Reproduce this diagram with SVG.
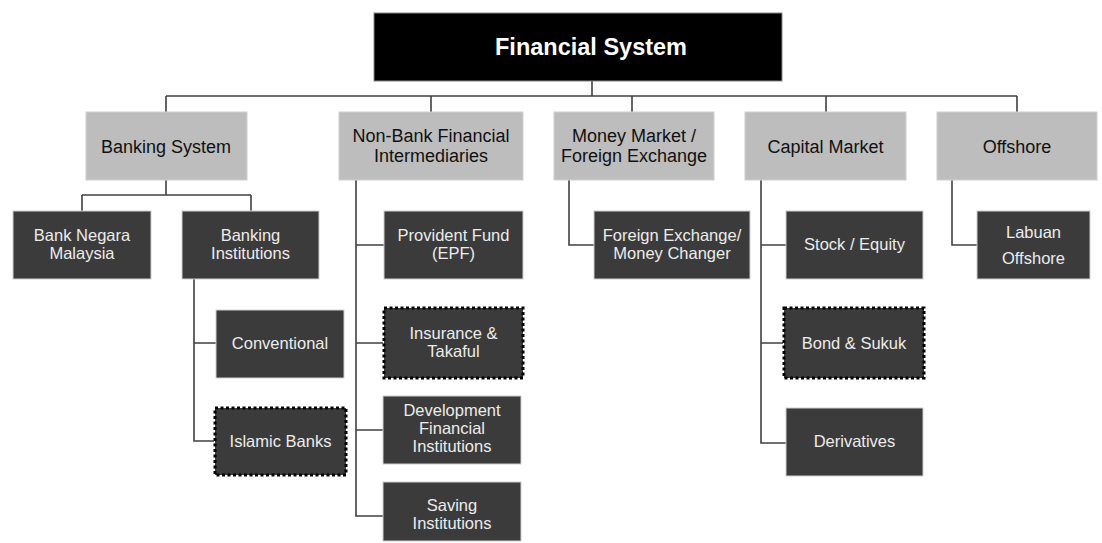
<svg xmlns="http://www.w3.org/2000/svg" width="1102" height="543" viewBox="0 0 1102 543">
<style>
text{font-family:"Liberation Sans",Arial,sans-serif;text-anchor:middle;}
.l1 rect{fill:#bdbdbd;stroke:#d0d0d0;stroke-width:1}
.l1 text{fill:#111;font-size:18px}
.l2 rect{fill:#3b3b3b;stroke:#cfcfcf;stroke-width:1}
.l2 text{fill:#ececec;font-size:16.5px}
.dot rect{stroke:#000;stroke-width:3;stroke-dasharray:3 2.5}
#connectors path{fill:none;stroke:#404040;stroke-width:1.6}
</style>
<rect width="1102" height="543" fill="#fff"/>
<g id="connectors">
<path d="M592 81V96M166 96H1017M166 96V112M431 96V112M632 96V112M826 96V112M1017 96V112"/>
<path d="M166 180V195M82 195H251M82 195V211M251 195V211"/>
<path d="M194 279V441H214M194 343H216"/>
<path d="M356 180V516H383M356 245H384M356 343H383M356 430H383"/>
<path d="M569 180V245H594"/>
<path d="M761 180V443H786M761 245H786M761 343H783"/>
<path d="M952 180V245H977"/>
</g>
<g id="financial-system"><rect x="374" y="13" width="408" height="68" fill="#000" stroke="#888" stroke-width="1"/><text x="591" y="55" fill="#fff" font-size="23.5" font-weight="bold">Financial System</text></g>
<g id="banking-system" class="l1"><rect x="86" y="112" width="161" height="68"/><text x="166" y="153">Banking System</text></g>
<g id="non-bank" class="l1"><rect x="339" y="112" width="184" height="68"/><text x="431" y="142">Non-Bank Financial</text><text x="431" y="162">Intermediaries</text></g>
<g id="money-market" class="l1"><rect x="554" y="112" width="160" height="68"/><text x="634" y="142">Money Market /</text><text x="634" y="162">Foreign Exchange</text></g>
<g id="capital-market" class="l1"><rect x="745" y="112" width="161" height="68"/><text x="825.5" y="153">Capital Market</text></g>
<g id="offshore" class="l1"><rect x="937" y="112" width="160" height="68"/><text x="1017" y="153">Offshore</text></g>
<g id="bank-negara" class="l2"><rect x="13" y="211" width="138" height="68"/><text x="82" y="241">Bank Negara</text><text x="82" y="259">Malaysia</text></g>
<g id="banking-institutions" class="l2"><rect x="182" y="211" width="137" height="68"/><text x="250.5" y="241">Banking</text><text x="250.5" y="259">Institutions</text></g>
<g id="conventional" class="l2"><rect x="216" y="310" width="128" height="68"/><text x="280" y="349">Conventional</text></g>
<g id="islamic-banks" class="l2 dot"><rect x="215" y="408" width="131" height="67"/><text x="280.5" y="447">Islamic Banks</text></g>
<g id="provident-fund" class="l2"><rect x="384" y="211" width="139" height="68"/><text x="453.5" y="241">Provident Fund</text><text x="453.5" y="259">(EPF)</text></g>
<g id="insurance" class="l2 dot"><rect x="384" y="308" width="139" height="70"/><text x="453.5" y="339">Insurance &amp;</text><text x="453.5" y="357">Takaful</text></g>
<g id="development" class="l2"><rect x="383" y="396" width="138" height="68"/><text x="452" y="416">Development</text><text x="452" y="434">Financial</text><text x="452" y="452">Institutions</text></g>
<g id="saving" class="l2"><rect x="383" y="482" width="138" height="59"/><text x="452" y="511">Saving</text><text x="452" y="529">Institutions</text></g>
<g id="forex" class="l2"><rect x="594" y="211" width="156" height="68"/><text x="672" y="241">Foreign Exchange/</text><text x="672" y="259">Money Changer</text></g>
<g id="stock" class="l2"><rect x="786" y="211" width="137" height="68"/><text x="854.5" y="250">Stock / Equity</text></g>
<g id="bond" class="l2 dot"><rect x="784" y="308" width="140" height="70"/><text x="854" y="349">Bond &amp; Sukuk</text></g>
<g id="derivatives" class="l2"><rect x="786" y="408" width="137" height="68"/><text x="854.5" y="447">Derivatives</text></g>
<g id="labuan" class="l2"><rect x="977" y="211" width="113" height="68"/><text x="1033.5" y="238">Labuan</text><text x="1033.5" y="264">Offshore</text></g>
</svg>
